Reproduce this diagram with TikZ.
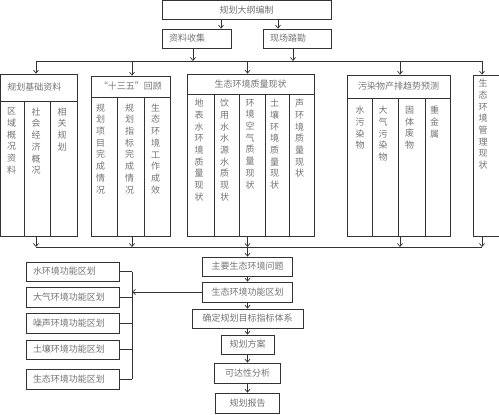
\documentclass[tikz,border=0pt]{standalone}
\usepackage{fontspec}
\newfontfamily\cjk{Noto Sans CJK SC}
\usetikzlibrary{positioning}
\usetikzlibrary{arrows.meta}

\tikzset{
  box/.style={draw=black!80, line width=0.7pt, inner sep=0pt, text=black!55, font=\cjk\fontsize{9}{11.7}\selectfont},
  lbox/.style={box, align=left, inner xsep=7pt},
  vtext/.style={inner sep=0pt, anchor=north, align=center, text=black!55, font=\cjk\fontsize{9}{11.7}\selectfont},
  line/.style={draw=black!80, line width=0.7pt},
  arr/.style={line, -{Straight Barb[length=3pt,width=5pt]}}
}

\begin{document}
\begin{tikzpicture}[x=1pt,y=-1pt]
\useasboundingbox (0,0) rectangle (499,415);

% top part
\node[box, minimum width=169pt, minimum height=19pt] (top) at (246.5,10) {规划大纲编制};
\node[lbox, text width=55pt, minimum height=19pt] (zlsj) at (196.5,38.5) {资料收集};
\node[lbox, text width=54pt, minimum height=19pt] (xcsk) at (297,38.5) {现场踏勘};

% group A
\node[lbox, text width=62.5pt, minimum height=27pt] (hdA) at (38.75,87.5) {规划基础资料};
\node[box, minimum width=76.5pt, minimum height=135pt] (bdA) at (38.75,168.5) {};
\foreach \x in {24,50} \draw[line] (bdA.north -| \x,0) -- (bdA.south -| \x,0);
\foreach \x/\t [count=\i] in {11.5/{区\\域\\概\\况\\资\\料}, 36/{社\\会\\经\\济\\概\\况}, 62/{相\\关\\规\\划}}
  \node[vtext] (tA\i) at (\x,107.5) {\t};

% group B
\node[box, minimum width=79pt, minimum height=21pt] (hdB) at (130.5,86.5) {“十三五”回顾};
\node[box, minimum width=79pt, minimum height=139pt] (bdB) at (130.5,166.5) {};
\foreach \x in {117,144} \draw[line] (bdB.north -| \x,0) -- (bdB.south -| \x,0);
\foreach \x/\t [count=\i] in {100.5/{规\\划\\项\\目\\完\\成\\情\\况}, 129.5/{规\\划\\指\\标\\完\\成\\情\\况}, 155.5/{生\\态\\环\\境\\工\\作\\成\\效}}
  \node[vtext] (tB\i) at (\x,103.5) {\t};

% group C
\node[box, minimum width=127pt, minimum height=20pt] (hdC) at (250.5,84) {生态环境质量现状};
\node[box, minimum width=127pt, minimum height=142pt] (bdC) at (250.5,165) {};
\foreach \x in {214,239,265,289} \draw[line] (bdC.north -| \x,0) -- (bdC.south -| \x,0);
\foreach \x/\t [count=\i] in {199/{地\\表\\水\\环\\境\\质\\量\\现\\状}, 224.5/{饮\\用\\水\\水\\源\\水\\质\\现\\状}, 250/{环\\境\\空\\气\\质\\量\\现\\状}, 274.5/{土\\壤\\环\\境\\质\\量\\现\\状}, 299.5/{声\\环\\境\\质\\量\\现\\状}}
  \node[vtext] (tC\i) at (\x,99) {\t};

% group D
\node[box, minimum width=103pt, minimum height=23pt] (hdD) at (398.5,86.5) {污染物产排趋势预测};
\node[box, minimum width=103pt, minimum height=138pt] (bdD) at (398.5,167) {};
\foreach \x in {372,398,425} \draw[line] (bdD.north -| \x,0) -- (bdD.south -| \x,0);
\foreach \x/\t [count=\i] in {360/{水\\污\\染\\物}, 383/{大\\气\\污\\染\\物}, 409.5/{固\\体\\废\\物}, 434.5/{重\\金\\属}}
  \node[vtext] (tD\i) at (\x,106) {\t};

% group E
\node[box, minimum width=37pt, minimum height=161pt, alias=bdE] (hdE) at (491.5,155.5) {};
\node[vtext] (tE1) at (483,79) {生\\态\\环\\境\\管\\理\\现\\状};

% buses
\foreach \g/\x in {A/36,B/132,C/247.5,D/400,E/482} {
  \coordinate (t\g) at (\x,61);
  \coordinate (b\g) at (\x,247);
}
\coordinate (ka) at (221,0);
\coordinate (kb) at (278,0);
\coordinate (kc) at (193,0);
\coordinate (kd) at (293,0);
\draw[arr] (top.south -| ka) -- (zlsj.north -| ka);
\draw[arr] (top.south -| kb) -- (xcsk.north -| kb);
\draw[line] (tA) -- (tE);
\draw[arr] (zlsj.south -| kc) -- (tA -| kc);
\draw[arr] (xcsk.south -| kd) -- (tA -| kd);
\draw[line] (bA) -- (bE);
\foreach \g in {A,B,C,D,E} {
  \draw[arr] (t\g) -- (hd\g.north -| t\g);
  \draw[arr] (bd\g.south -| b\g) -- (b\g);
}

% main chain
\node[box, minimum width=90pt, minimum height=19pt] (zy) at (247.5,266.5) {主要生态环境问题};
\node[box, minimum width=90pt, minimum height=20pt] (gnqh) at (247.5,292) {生态环境功能区划};
\node[box, minimum width=111pt, minimum height=19pt] (qdmb) at (247.5,318.5) {确定规划目标指标体系};
\node[box, minimum width=53pt, minimum height=19pt] (fa) at (247.5,344.5) {规划方案};
\node[box, minimum width=66pt, minimum height=20pt] (kdx) at (247.5,373) {可达性分析};
\node[box, minimum width=64pt, minimum height=20pt] (bg) at (247.5,403) {规划报告};
\draw[arr] (bC) -- (zy.north -| bC);
\draw[arr] (zy) -- (gnqh);
\draw[arr] (gnqh) -- (qdmb);
\draw[arr] (qdmb) -- (fa);
\draw[arr] (fa) -- (kdx);
\draw[arr] (kdx) -- (bg);

% function zoning
\node[lbox, text width=79pt, minimum height=19pt] (sh) at (72.5,271.5) {水环境功能区划};
\node[lbox, text width=79pt, minimum height=20pt] (dq) at (72.5,297) {大气环境功能区划};
\node[lbox, text width=79pt, minimum height=20pt] (zs) at (72.5,323) {噪声环境功能区划};
\node[lbox, text width=79pt, minimum height=19pt] (tr) at (72.5,349.5) {土壤环境功能区划};
\node[lbox, text width=79pt, minimum height=20pt] (st) at (72.5,379) {生态环境功能区划};
\coordinate (brk) at (132,0);
\foreach \n in {sh,dq,zs,tr,st} \draw[line] (\n.east) -- (\n.east -| brk);
\draw[line] (sh.east -| brk) -- (st.east -| brk);
\draw[arr] (gnqh.west) -- (gnqh.west -| brk);
\end{tikzpicture}
\end{document}
